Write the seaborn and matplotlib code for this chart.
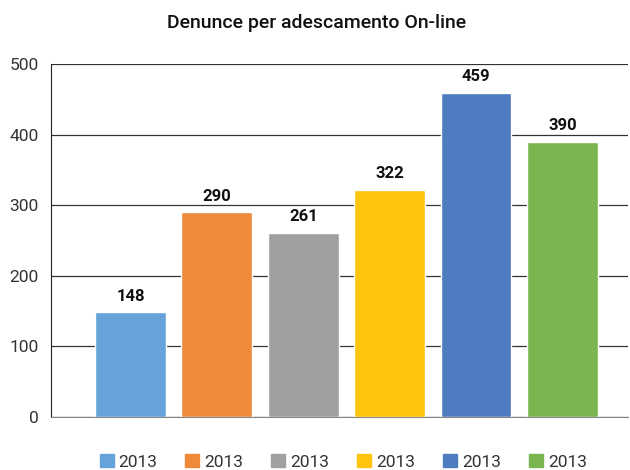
import matplotlib
matplotlib.use("Agg")
import matplotlib.pyplot as plt
from matplotlib.patches import Patch
import seaborn as sns
import pandas as pd

# data
categories = ["A", "B", "C", "D", "E", "F"]
values = [148, 290, 261, 322, 459, 390]
legend_labels = ["2013", "2013", "2013", "2013", "2013", "2013"]
colors = ["#65A3DA", "#F08A3B", "#A0A09F", "#FFC40C", "#4F7BC0", "#7AB650"]

df = pd.DataFrame({"cat": categories, "val": values})

sns.set_style("white")
plt.rcParams["font.family"] = ["Roboto", "DejaVu Sans"]

fig = plt.figure(figsize=(6.3, 4.7), dpi=100)
ax = fig.add_axes([0.081, 0.113, 0.916, 0.751])

sns.barplot(data=df, x="cat", y="val", hue="cat", palette=colors,
            width=0.82, legend=False, ax=ax, saturation=1)

for i, v in enumerate(values):
    ax.text(i, v + 12, str(v), ha="center", va="bottom",
            fontsize=12, fontweight="bold", color="#111111")

ax.set_ylim(0, 500)
ax.set_xlim(-0.92, 5.76)
ax.set_yticks([0, 100, 200, 300, 400, 500])
ax.tick_params(axis="y", labelsize=12.5, labelcolor="#333333", length=0, pad=9)
ax.set_xticks([])
ax.set_xlabel("")
ax.set_ylabel("")
ax.yaxis.grid(True, color="#333333", linewidth=0.9)
ax.set_axisbelow(True)
for s in ["top", "right"]:
    ax.spines[s].set_visible(False)
ax.spines["left"].set_color("#222222")
ax.spines["bottom"].set_color("#888888")

fig.suptitle("Denunce per adescamento On-line", y=0.97, fontsize=14,
             fontweight="medium", color="#111111", x=0.502)

handles = [Patch(color=c) for c in colors]
fig.legend(handles, legend_labels, loc="lower center", ncol=6,
           bbox_to_anchor=(0.545, -0.033), frameon=False, fontsize=12.5,
           handlelength=0.8, handleheight=0.8, handletextpad=0.3,
           columnspacing=1.6, labelcolor="#333333")

fig.savefig("out.png", dpi=100)
